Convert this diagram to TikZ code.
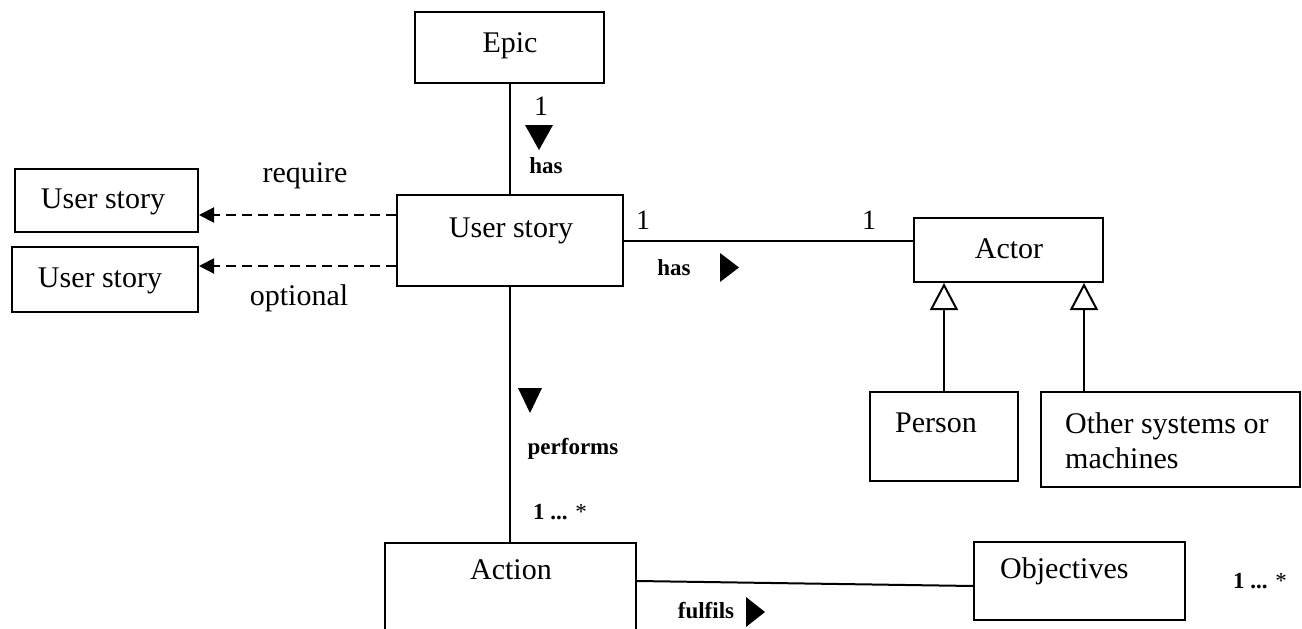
\documentclass[tikz,border=0pt]{standalone}
\usepackage{fontspec}
\setmainfont{Liberation Serif}
\usetikzlibrary{arrows.meta,calc}
\begin{document}
\begin{tikzpicture}[x=1pt,y=-1pt,
  box/.style={draw,line width=2pt,inner sep=0pt,rectangle},
  txt/.style={inner sep=0pt,anchor=base,font=\fontsize{30}{35}\selectfont},
  lbl/.style={inner sep=0pt,anchor=base,font=\bfseries\fontsize{23}{27}\selectfont},
  mult/.style={inner sep=0pt,anchor=base,font=\fontsize{28}{32}\selectfont},
  multb/.style={inner sep=0pt,anchor=base west,font=\fontsize{23}{27}\selectfont},
  conn/.style={line width=2pt},
  dep/.style={line width=2pt,dash pattern=on 10pt off 6pt,-{Triangle[length=15pt,width=15pt]}},
  gen/.style={line width=2pt,-{Triangle[open,length=27pt,width=28pt,line width=2pt]}},
  dirmark/.style={fill=black}
]
\clip (0,0) rectangle (1302,629);
\fill[white] (0,0) rectangle (1302,629);

% boxes
\node[box,minimum width=189,minimum height=71] (epic) at (509.5,47.5) {};
\node[box,minimum width=226,minimum height=91] (us) at (510,240.5) {};
\node[box,minimum width=183,minimum height=63] (ls1) at (106.5,200.5) {};
\node[box,minimum width=186,minimum height=65] (ls2) at (105,279.5) {};
\node[box,minimum width=189,minimum height=64] (actor) at (1008.5,250) {};
\node[box,minimum width=148,minimum height=89] (person) at (944,436.5) {};
\node[box,minimum width=259,minimum height=95] (other) at (1170.5,439.5) {};
\node[box,minimum width=251,minimum height=117] (action) at (510.5,601.5) {};
\node[box,minimum width=211,minimum height=78] (obj) at (1079.5,581) {};

% box texts
\node[txt] (tepic) at (510,52) {Epic};
\node[txt] (tus) at (511,237) {User story};
\node[txt] (tls1) at (103,208) {User story};
\node[txt] (tls2) at (100,287) {User story};
\node[txt] (tactor) at (1009,258) {Actor};
\node[txt] (tperson) at (936,432) {Person};
\node[txt,anchor=base west,align=left] (tother) at (1065,468) {Other systems or\\machines};
\node[txt] (taction) at (511,579) {Action};
\node[txt,anchor=base west] (tobj) at (1000,578) {Objectives};

% connectors
\draw[conn] (epic.south) -- (epic.south |- us.north);
\draw[conn] (us.south -| epic.south) -- (epic.south |- action.north);
\draw[conn] (us.east) -- (us.east -| actor.west);
\coordinate (actR) at ($(action.north east)+(0,39)$);
\draw[conn] (actR) -- ($(obj.west)+(0,5)$);
\coordinate (d1) at ($(us.north west)+(0,21)$);
\coordinate (d2) at ($(us.north west)+(0,72)$);
\draw[dep] (d1) -- (d1 -| ls1.east);
\draw[dep] (d2) -- (d2 -| ls2.east);
\coordinate (o1) at ($(other.north west)+(44,0)$);
\draw[gen] (person.north) -- (person.north |- actor.south);
\draw[gen] (o1) -- (o1 |- actor.south);

% labels
\node[mult] (m1) at (541,115) {1};
\node[lbl] (lhas1) at (546,173) {has};
\node[txt] (lreq) at (305,182) {require};
\node[txt] (lopt) at (299,305) {optional};
\node[mult] (m2) at (643,229) {1};
\node[mult] (m3) at (869,229) {1};
\node[lbl] (lhas2) at (674,275) {has};
\node[lbl] (lperf) at (573,454) {performs};
\node[multb] (m4) at (533,519) {\textbf{1 ...} *};
\node[multb] (m5) at (1233,588) {\textbf{1 ...} *};
\node[lbl] (lful) at (706,618) {fulfils};

% direction marks
\fill[dirmark] (525,125) -- (553,125) -- (539,150) -- cycle;
\fill[dirmark] (720,253) -- (739,267.5) -- (720,282) -- cycle;
\fill[dirmark] (518,388) -- (542,388) -- (530,413) -- cycle;
\fill[dirmark] (746,597) -- (765,612) -- (746,627) -- cycle;
\end{tikzpicture}
\end{document}
